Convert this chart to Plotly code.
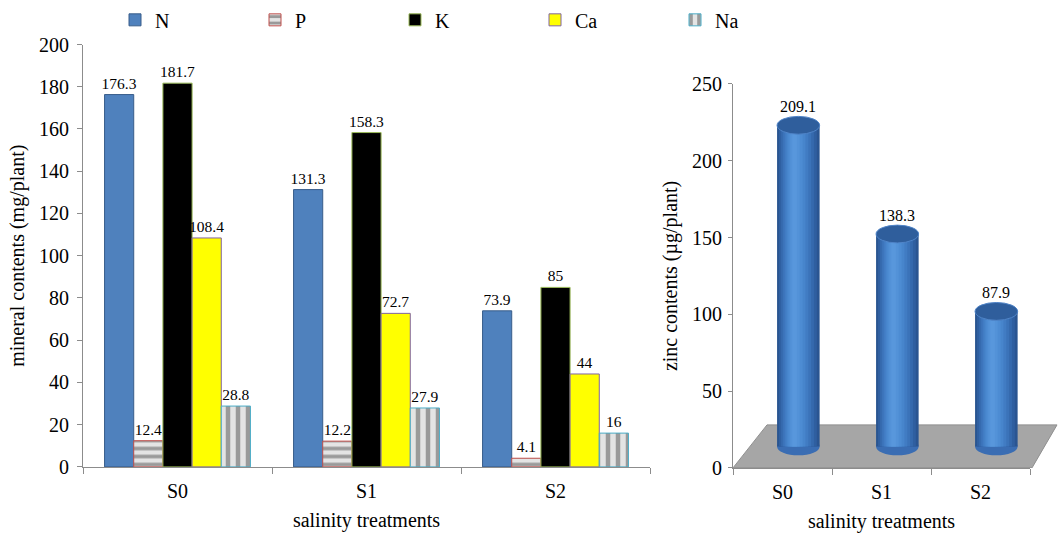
import plotly.graph_objects as go

# ---- data -------------------------------------------------------------
treatments = ["S0", "S1", "S2"]

mineral_names = ["N", "P", "K", "Ca", "Na"]
n_vals = [176.3, 131.3, 73.9]
p_vals = [12.4, 12.2, 4.1]
k_vals = [181.7, 158.3, 85]
ca_vals = [108.4, 72.7, 44]
na_vals = [28.8, 27.9, 16]

zinc_vals = [209.1, 138.3, 87.9]

# ---- styling ------------------------------------------------------------
W, H = 1058, 535
SERIF = "Liberation Serif"
AXIS_GREY = "#8c8c8c"


def fmt(v):
    return f"{v:g}"


mineral_styles = {
    "N": dict(color="#4f81bd", line="#385d8a", pattern=None),
    "P": dict(color="#e4e4e4", line="#c0504d",
              pattern=dict(shape="-", fgcolor="#505050", bgcolor="#e4e4e4",
                           size=8, solidity=0.45)),
    "K": dict(color="#000000", line="#9bbb59", pattern=None),
    "Ca": dict(color="#ffff00", line="#8064a2", pattern=None),
    "Na": dict(color="#e4e4e4", line="#4bacc6",
               pattern=dict(shape="|", fgcolor="#505050", bgcolor="#e4e4e4",
                            size=10, solidity=0.45)),
}
mineral_series = [n_vals, p_vals, k_vals, ca_vals, na_vals]

fig = go.Figure()

# ---- left panel: grouped mineral bars ------------------------------------
for name, vals in zip(mineral_names, mineral_series):
    st = mineral_styles[name]
    marker = dict(color=st["color"], line=dict(color=st["line"], width=1))
    if st["pattern"]:
        marker["pattern"] = st["pattern"]
    fig.add_trace(go.Bar(
        x=treatments, y=vals, name=name, xaxis="x", yaxis="y",
        marker=marker,
        text=[fmt(v) for v in vals], textposition="outside",
        textfont=dict(family=SERIF, size=15.5, color="black"),
        constraintext="none", cliponaxis=False,
    ))

# ---- right panel: pseudo-3D cylinders -------------------------------------
depth = 14          # lift of the cylinders above the floor front edge (axis units)
cyl_w = 0.43        # cylinder width (category units)
cyl_shift = 0.16    # perspective shift to the right (category units)
cap_h = 11.6        # ellipse cap height (axis units)

shade = ["#2a5591", "#2f5fa0", "#3569ad", "#3b73b9", "#417cc3",
         "#4785cc", "#4d8cd3", "#5392d8", "#5897dc"]
L = len(shade)
for k, col in enumerate(shade):
    f = 1 - k / L
    w = cyl_w * f
    centre = cyl_shift - 0.1 * cyl_w * (1 - f)
    fig.add_trace(go.Bar(
        x=treatments, y=zinc_vals, base=[depth] * len(zinc_vals),
        xaxis="x2", yaxis="y2", width=w, offset=centre - w / 2,
        marker=dict(color=col, line=dict(width=0)),
        showlegend=False, hoverinfo="skip" if k else "y",
    ))

shapes = []
# floor plane (drawn beneath the cylinders)
x_px = [733, 1032, 1057, 767]
y_val = [0, 0, 28, 28]
path = "M " + " L ".join(f"{x / W},{y}" for x, y in zip(x_px, y_val)) + " Z"
shapes.append(dict(type="path", path=path, xref="paper", yref="y2",
                   fillcolor="#a6a6a6", line=dict(color="#8f8f8f", width=1),
                   layer="below"))

annotations = []
for i, v in enumerate(zinc_vals):
    cx = i + cyl_shift
    # rounded bottom
    shapes.append(dict(type="circle", xref="x2", yref="y2",
                       x0=cx - cyl_w / 2, x1=cx + cyl_w / 2,
                       y0=depth - cap_h / 2, y1=depth + cap_h / 2,
                       fillcolor="#3a6db3", line=dict(width=0), layer="below"))
    # top cap
    top = v + depth
    shapes.append(dict(type="circle", xref="x2", yref="y2",
                       x0=cx - cyl_w / 2, x1=cx + cyl_w / 2,
                       y0=top - cap_h / 2, y1=top + cap_h / 2,
                       fillcolor="#2f5e9c", line=dict(color="#4f84c8", width=1),
                       layer="above"))
    annotations.append(dict(x=cx, y=top, xref="x2", yref="y2", text=fmt(v),
                            showarrow=False, yanchor="bottom", yshift=8,
                            font=dict(family=SERIF, size=16, color="black")))

axis_common = dict(showline=True, linecolor=AXIS_GREY, linewidth=1,
                   ticks="outside", tickcolor=AXIS_GREY, showgrid=False,
                   zeroline=False, automargin=False,
                   tickfont=dict(family=SERIF, size=20, color="black"))

fig.update_layout(
    width=W, height=H,
    margin=dict(l=0, r=0, t=0, b=0),
    paper_bgcolor="white", plot_bgcolor="white",
    font=dict(family=SERIF, color="black"),
    barmode="group", bargap=0.228, bargroupgap=0,
    showlegend=True,
    legend=dict(orientation="h", x=115 / W, xanchor="left",
                y=1 - 13 / H, yanchor="middle",
                font=dict(family=SERIF, size=20, color="black"),
                entrywidth=95, entrywidthmode="pixels",
                bgcolor="rgba(0,0,0,0)", itemclick=False),
    xaxis=dict(domain=[83 / W, 650 / W], anchor="y", tickson="boundaries",
               ticklen=6, ticklabelstandoff=6,
               title=dict(text="salinity treatments",
                          font=dict(family=SERIF, size=20), standoff=12),
               **axis_common),
    yaxis=dict(domain=[(H - 466) / H, (H - 38) / H], anchor="x",
               range=[0, 200], dtick=20, ticklen=5, ticklabelstandoff=4,
               title=dict(text="mineral contents (mg/plant)",
                          font=dict(family=SERIF, size=20), standoff=8),
               **axis_common),
    xaxis2=dict(domain=[733 / W, 1030 / W], anchor="y2", tickson="boundaries",
                range=[-0.5, 2.5], ticklen=6, ticklabelstandoff=6,
                title=dict(text="salinity treatments",
                           font=dict(family=SERIF, size=20), standoff=12),
                **axis_common),
    yaxis2=dict(domain=[(H - 467) / H, (H - 78) / H], anchor="x2",
                range=[0, 250], dtick=50, ticklen=4, ticklabelstandoff=2,
                title=dict(text="zinc contents (µg/plant)",
                           font=dict(family=SERIF, size=20), standoff=8),
                **axis_common),
    shapes=shapes,
    annotations=annotations,
)

fig.write_html("out.html")
